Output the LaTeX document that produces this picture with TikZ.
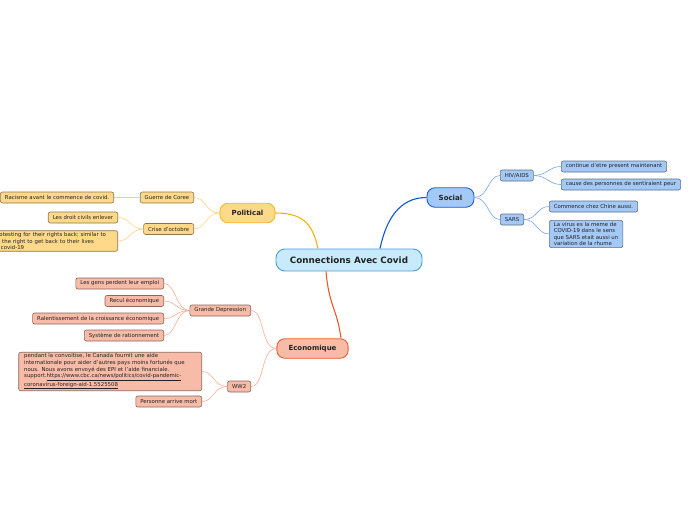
\documentclass[tikz,border=0pt]{standalone}
\usepackage{fontspec}
\setmainfont{DejaVu Sans}
\usetikzlibrary{positioning}

\definecolor{rootfill}{HTML}{C8EBFB}
\definecolor{rootline}{HTML}{4A9FDA}
\definecolor{polfill}{HTML}{FFD98A}
\definecolor{polline}{HTML}{F5B82E}
\definecolor{polwire}{HTML}{FDD07A}
\definecolor{polmain}{HTML}{F6B400}
\definecolor{socfill}{HTML}{A5C9F6}
\definecolor{socline}{HTML}{1B5FCF}
\definecolor{socwire}{HTML}{6FA0E8}
\definecolor{socmain}{HTML}{0F55D0}
\definecolor{ecofill}{HTML}{F8BBA7}
\definecolor{ecoline}{HTML}{EB5A2C}
\definecolor{ecowire}{HTML}{F9A98C}
\definecolor{ecomain}{HTML}{EC5B2B}
\definecolor{inktext}{HTML}{222222}

\newcommand{\leaffont}{\fontsize{5.4}{6.6}\selectfont}

\begin{document}
\begin{tikzpicture}[x=1pt, y=-1pt,
    root/.style={draw=rootline, fill=rootfill, line width=0.9pt, rounded corners=9pt,
        minimum width=146pt, minimum height=22pt, text=inktext,
        font=\fontsize{8.8}{10}\selectfont\bfseries},
    topic/.style={draw=#1line, fill=#1fill, line width=0.9pt, rounded corners=8pt,
        inner xsep=11.7pt, minimum height=19.5pt, text=inktext,
        font=\fontsize{7}{8}\selectfont\bfseries},
    leaf/.style={draw=#1fill!55!black, fill=#1fill, line width=0.6pt, rounded corners=2pt,
        inner xsep=4.5pt, inner ysep=1.6pt, minimum height=11pt, text=inktext,
        font=\leaffont, align=left},
    mainwire/.style={line width=1.1pt},
    wire/.style={line width=0.55pt},
]
    \useasboundingbox (0,0) rectangle (697,520);
    \clip (0,0) rectangle (697,520);

    % ============================================================
    % ROOT AND MAIN TOPICS
    % ============================================================
    \node[root] (root) at (349,260) {Connections Avec Covid};

    \node[topic=pol] (pol) at (247.5,213) {Political};
    \node[topic=soc] (soc) at (450.5,197.5) {Social};
    \node[topic=eco] (eco) at (312.5,348.5) {Economique};

    \draw[mainwire, polmain] ([xshift=-31pt]root.north)
        .. controls +(-5,-22) and +(30,0) .. (pol.east);
    \draw[mainwire, socmain] ([xshift=31pt]root.north)
        .. controls +(6,-28) and +(-28,0) .. (soc.west);
    \draw[mainwire, ecomain] ([xshift=-23pt]root.south)
        .. controls +(3,35) and +(-4,-30) .. ([xshift=28.5pt]eco.north);

    % ============================================================
    % POLITICAL
    % ============================================================
    \node[leaf=pol, anchor=east] (guerre) at (194,197.5) {Guerre de Coree};
    \node[leaf=pol, anchor=east] (crise) at (194,229) {Crise d'octobre};
    \node[leaf=pol, anchor=east] (racisme) at (114,197.5)
        {Racisme avant le commence de covid.};
    \node[leaf=pol, anchor=east] (droits) at (118,217.5) {Les droit civils enlever};
    \node[leaf=pol, anchor=east, text width=119pt] (protest) at (118,241)
        {Protesting for their rights back; similar to\\
         us the right to get back to their lives\\
         in covid-19};

    \foreach \kid in {guerre, crise}
        \draw[wire, polwire] (pol.west) .. controls +(-14,0) and +(12,0) .. (\kid.east);
    \draw[wire, polwire] (guerre.west) -- (racisme.east);
    \foreach \kid in {droits, protest}
        \draw[wire, polwire] (crise.west) .. controls +(-13,0) and +(12,0) .. (\kid.east);

    % ============================================================
    % SOCIAL
    % ============================================================
    \node[leaf=soc, anchor=west] (hiv) at (500,175.5) {HIV/AIDS};
    \node[leaf=soc, anchor=west] (sars) at (500,219.5) {SARS};
    \node[leaf=soc, anchor=west] (continue) at (561,166.5)
        {continue d'etre present maintenant};
    \node[leaf=soc, anchor=west] (peur) at (561,184.5)
        {cause des personnes de sentiraient peur};
    \node[leaf=soc, anchor=west] (chine) at (549,206.5) {Commence chez Chine aussi.};
    \node[leaf=soc, anchor=west] (virus) at (549,234)
        {La virus es la meme de\\
         COVID-19 dans le sens\\
         que SARS etait aussi un\\
         variation de la rhume};

    \foreach \kid in {hiv, sars}
        \draw[wire, socwire] (soc.east) .. controls +(14,0) and +(-12,0) .. (\kid.west);
    \foreach \kid in {continue, peur}
        \draw[wire, socwire] (hiv.east) .. controls +(13,0) and +(-12,0) .. (\kid.west);
    \foreach \kid in {chine, virus}
        \draw[wire, socwire] (sars.east) .. controls +(13,0) and +(-12,0) .. (\kid.west);

    % ============================================================
    % ECONOMIQUE
    % ============================================================
    \node[leaf=eco, anchor=east] (grande) at (251,310.5) {Grande Depression};
    \node[leaf=eco, anchor=east] (ww2) at (251,386.5) {WW2};
    \node[leaf=eco, anchor=east] (emploi) at (164,283.5) {Les gens perdent leur emploi};
    \node[leaf=eco, anchor=east] (recul) at (164,301) {Recul économique};
    \node[leaf=eco, anchor=east] (ralenti) at (164,318.5)
        {Ralentissement de la croissance économique};
    \node[leaf=eco, anchor=east] (ration) at (164,335.5) {Système de rationnement};
    \node[leaf=eco, anchor=east, text width=172pt, inner xsep=5.5pt] (aide) at (202,371.5)
        {pendant la convoitise, le Canada fournit une aide\\
         internationale pour aider d'autres pays moins fortunés que\\
         nous. Nous avons envoyé des EPI et l'aide financiale.\\
         support.\underline{https://www.cbc.ca/news/politics/covid-pandemic-}\\
         \underline{coronavirus-foreign-aid-1.5525508}};
    \node[leaf=eco, anchor=east] (mort) at (202,401.5) {Personne arrive mort};

    \foreach \kid in {grande, ww2}
        \draw[wire, ecowire] (eco.west) .. controls +(-16,0) and +(14,0) .. (\kid.east);
    \foreach \kid in {emploi, recul, ralenti, ration}
        \draw[wire, ecowire] (grande.west) .. controls +(-14,0) and +(12,0) .. (\kid.east);
    \foreach \kid in {aide, mort}
        \draw[wire, ecowire] (ww2.west) .. controls +(-14,0) and +(12,0) .. (\kid.east);

\end{tikzpicture}
\end{document}
